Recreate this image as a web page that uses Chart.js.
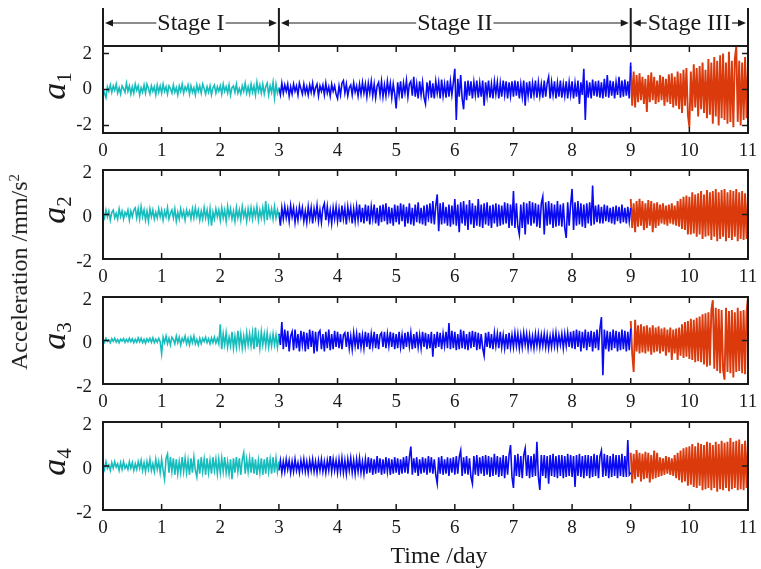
<!DOCTYPE html>
<html><head><meta charset="utf-8">
<script src="https://cdn.jsdelivr.net/npm/chart.js@4.4.1/dist/chart.umd.min.js"></script>
<style>
html,body{margin:0;padding:0;background:#fff;}
#wrap{position:relative;width:761px;height:569px;overflow:hidden;background:#fff;font-family:"Liberation Serif","Times New Roman",serif;color:#1a1a1a;}
canvas{position:absolute;left:0;}
.lab{position:absolute;white-space:nowrap;line-height:1;}
.rot{transform:translate(-50%,-50%) rotate(-90deg);}
.lab sub{font-size:0.62em;vertical-align:-0.3em;}
.lab sup{font-size:0.62em;vertical-align:0.55em;}
</style></head><body>
<div id="wrap">
<canvas id="c1"></canvas><canvas id="c2"></canvas><canvas id="c3"></canvas><canvas id="c4"></canvas>
<div class="lab rot" style="left:19px;top:272px;font-size:24px">Acceleration /mm/s<sup>2</sup></div>
<div class="lab rot" style="left:56px;top:86px;font-size:34px"><i>a</i><sub>1</sub></div>
<div class="lab rot" style="left:56px;top:210px;font-size:34px"><i>a</i><sub>2</sub></div>
<div class="lab rot" style="left:56px;top:336px;font-size:34px"><i>a</i><sub>3</sub></div>
<div class="lab rot" style="left:56px;top:462px;font-size:34px"><i>a</i><sub>4</sub></div>
<div class="lab" style="left:439px;top:555px;transform:translate(-50%,-50%);font-size:24px">Time /day</div>
</div>
<script>
// ---- data ----
const stageNames = ['Stage I','Stage II','Stage III'];
const stageBounds = [0,3,9,11];
const xTicks = [0,1,2,3,4,5,6,7,8,9,10,11];
const yTicks = [-2,0,2];
const sampleStep = 0.025; // day between samples

const a1Cyan = [.05,-.2,-.45,.15,-.1,.25,-.15,.2,-.05,.3,-.2,.1,-.25,.2,.05,-.15,.35,-.1,.2,-.25,
 .15,-.2,.3,-.05,.2,-.3,.1,-.15,.25,-.2,.3,.05,-.25,.2,-.1,.15,-.3,.25,-.15,.2,
 -.2,.3,-.1,.15,-.25,.2,.05,-.2,.25,-.15,.1,-.3,.2,-.1,.3,-.2,.15,-.05,.25,-.25,
 .2,-.15,.1,-.3,.25,-.1,.2,-.2,.3,.05,-.25,.15,-.15,.2,-.3,.1,.25,-.2,.15,-.1,
 .2,-.25,.3,-.1,.15,-.2,.25,-.3,.1,.2,-.15,.3,-.2,.05,-.25,.2,-.1,.35,-.2,.15,
 -.25,.3,-.15,.2,-.3,.4,-.1,.25,-.2,.3,-.25,.15,.35,-.3,.2,-.15,.4,-.45,.3,-.2,.1];
const a1Blue = [.1,-.3,.35,-.2,.25,-.1,.3,-.35,.15,-.25,.3,-.1,.2,-.3,.35,.05,-.25,.3,-.2,.15,
 -.3,.25,-.15,.35,-.25,.1,.3,-.35,.2,-.1,.25,-.3,.35,-.2,.15,-.35,.3,-.1,.2,-.25,
 -.5,.2,-.3,.35,.5,-.2,.3,-.35,.1,.25,-.3,.35,-.15,.2,-.35,.3,-.25,.4,-.2,.3,
 -.4,.35,-.2,.45,-.35,.3,-.45,.2,.4,-.3,.45,-.4,.25,-.35,.45,-.2,.35,-.45,.3,-.25,
 -1.05,.4,-.3,.45,-.5,.35,-.2,.5,-.4,.3,.45,-.35,.7,-.4,.3,-.5,.45,-.3,.4,-.45,
 -.8,.4,-.3,.5,-.45,.35,-.5,.45,-.2,.4,-.5,.55,-.35,.3,-.45,.5,-.4,.45,-.3,.4,
 1.15,-1.7,.6,-.4,.8,-.5,-1.1,.45,-.6,.5,-.35,.45,-.5,.4,-.3,.5,-.45,.35,-.4,.5,
 -.9,.4,-.35,.5,-.45,.3,-.5,.45,-.25,.4,-.5,.35,-.4,.5,-.3,.45,-.5,.4,-.35,.45,
 -.4,.5,-.35,.45,-.5,.3,-.4,.5,-.9,.4,-.35,.45,-.5,.35,-.3,.5,-.45,.4,-.35,.3,
 -.45,.5,-.4,.35,.7,-.5,.4,-.3,.45,-.5,.35,-.4,.5,-.45,.3,-.35,.45,-.5,.4,-.3,
 .45,-.5,.35,-.4,.5,-.8,.4,-.3,1.15,-1.7,.5,-.45,.4,-.5,.55,-.35,.45,-.4,.5,-.45,
 .4,-.5,.6,-.4,.8,-.45,.5,-.35,.45,-.5,.4,-.3,.7,-.45,.5,-.4,.55,-.35,.45,-.5,1.5];
const a1Red = [1.3,-.9,1.0,-1.0,.8,-.7,.9,-.6,.7,-.8,.6,-1.25,.8,-.7,.95,-.6,.7,-.8,.5,-.7,
 .8,-.6,.7,-.9,.6,-.7,.85,-.8,.9,-1.0,.7,-.9,1.0,-1.1,.9,-1.3,1.1,-.9,1.2,-1.4,
 -2.1,1.0,-1.2,1.4,-1.0,1.2,-1.5,1.3,-1.1,1.5,-1.3,1.1,-1.6,1.7,-1.4,1.5,-1.9,1.8,-1.5,1.6,
 -2.0,1.9,-1.6,2.0,-1.7,1.5,-1.9,2.1,-1.8,1.6,-2.1,1.7,2.4,-1.8,1.6,-2.0,1.5,-1.7,1.8,-1.6,1.4];

const a2Cyan = [.05,-.15,.2,-.1,.15,-.25,.1,.2,-.15,.05,-.2,.25,-.1,.15,-.2,.1,-.05,.2,-.25,.15,
 -.1,.2,.3,-.15,.25,-.2,.35,-.1,.2,-.25,.15,-.3,.25,-.1,.2,-.2,.1,-.15,.25,-.1,
 .2,-.25,.15,-.1,.3,-.2,.05,.2,-.15,.25,-.3,.1,-.2,.25,-.1,.15,-.25,.2,-.05,.15,
 -.2,.25,-.15,.3,-.1,.2,-.25,.15,-.2,.3,-.15,.2,-.3,.25,-.5,.1,-.2,.25,-.1,.2,
 -.25,.3,-.15,.2,-.3,.35,-.1,.25,-.2,.15,-.3,.3,-.15,.2,-.25,.35,-.1,.2,-.3,.25,
 -.15,.3,-.2,.25,-.1,.35,-.25,.2,-.15,.3,-.2,.6,-.25,.3,-.1,.25,-.2,.35,-.15,.2,-.1];
const a2Blue = [.1,-.5,.3,-.2,.35,-.15,.25,-.3,.4,-.1,.3,-.35,.2,-.25,.35,-.1,.3,-.3,.15,-.35,
 .35,-.2,.3,-.4,.25,-.15,.4,-.3,.2,-.35,.3,.5,-.25,.35,-.3,.2,-.4,.3,-.2,.35,
 -.3,.25,-.35,.4,-.2,.3,-.45,.35,-.15,.3,-.4,.25,-.3,.35,-.25,.45,-.35,.3,-.4,.45,
 -.3,.4,-.45,.35,-.2,.45,-.4,.3,-.5,.4,-.35,.45,-.3,.5,-.45,.35,-.4,.3,-.5,.45,
 -.35,.4,-.45,.5,-.3,.45,-.55,.35,-.4,.5,-.45,.3,-.5,.45,-.35,.55,-.4,.3,-.45,.4,
 -.5,.45,-.35,.5,-.4,.6,-.45,.4,.9,-.75,.5,-.45,.55,-.4,.35,-.5,.45,-.55,.4,-.45,
 .7,-.5,.45,-.8,.55,-.4,.6,-.5,.45,-.7,.65,-.45,.5,-.6,.4,-.5,.7,-.55,.45,-.6,
 .5,-.45,.55,-.5,.4,-.6,.45,-.4,.5,-.55,.45,-.5,.4,-.45,.55,-.4,.5,-.6,.45,-.5,
 1.05,-.6,.5,-.55,-.9,.45,-.6,.55,-.9,.5,-.45,.6,-.5,.55,-.4,.5,-.55,.45,-.6,.5,
 .8,-.9,.55,-.5,.6,-.45,.5,-.6,.45,-.55,.6,-.5,.45,-.55,.5,-.6,-1.05,.55,-.5,.45,
 1.15,-.7,.55,-.5,.6,-.45,.5,-.55,.45,-.6,.5,-.4,.55,-.5,1.3,-.45,.4,-.35,.45,-.4,
 .35,-.4,.45,-.3,.4,-.35,.3,-.4,.35,-.45,.4,-.3,.35,-.4,.45,-.35,.3,-.4,.35,-.3,.3];
const a2Red = [.7,-.6,.5,-.8,.6,-.55,.7,-.5,.6,-.7,.5,-.6,.65,-.5,.6,-.8,.5,-.6,.55,-.5,
 .45,-.4,.5,-.45,.4,-.5,.45,-.4,.5,-.45,.4,-.5,.6,-.55,.7,-.65,.8,-.7,.85,-.9,
 .8,-.9,1.0,-.85,.9,-1.0,.95,-.9,1.05,-1.1,.9,-1.0,1.1,-.95,1.0,-1.15,1.05,-1.0,1.15,-1.2,
 1.0,-1.1,1.1,-1.0,1.15,-1.2,1.0,-1.05,1.1,-1.15,1.05,-1.0,1.15,-1.2,1.0,-1.1,1.05,-1.15,.95,-1.1,.9];

const a3Cyan = [.05,-.08,.1,-.05,.03,-.1,.08,-.04,.1,-.07,.05,-.1,.06,-.03,.09,-.08,.05,-.06,.1,-.05,
 .08,-.1,.05,-.08,.12,-.06,.1,-.1,.05,-.12,.08,-.05,.1,-.08,.12,-.1,.06,-.08,.1,-.05,
 -.6,.15,-.1,.2,-.15,.1,-.2,.15,.05,-.15,.2,-.1,.15,-.2,.1,-.05,.2,-.15,.1,-.2,
 .15,-.1,.2,-.15,.05,-.2,.1,-.15,.1,-.05,.15,-.1,.08,-.15,.12,-.1,.15,-.12,.1,-.15,
 .75,-.4,.3,-.2,.35,-.3,.15,-.25,.4,-.35,.2,-.3,.45,-.25,.3,-.35,.2,-.3,.35,-.2,
 .3,-.25,.35,-.4,.6,-.3,.25,-.35,.4,-.2,.3,-.25,.35,-.3,.2,-.25,.3,-.2,.25,-.3,.25];
const a3Blue = [.3,-.2,.85,-.4,.5,-.3,.45,-.5,.2,.4,-.45,.5,-.35,.3,-.5,.45,-.2,.4,-.5,.35,
 -.4,.5,-.3,.45,-.6,.4,-.5,.35,.45,-.4,.3,-.5,.4,-.35,.5,-.45,.3,-.4,.45,-.3,
 .4,-.35,.3,-.4,.25,.35,-.3,.4,-.35,.2,-.4,.35,-.25,.3,-.4,.35,-.3,.25,-.35,.4,
 -.3,.35,-.4,.3,-.25,.4,-.35,.3,-.4,.25,.35,-.3,.4,-.35,.3,-.25,.4,-.3,.35,-.4,
 .3,-.35,.4,-.3,.25,-.4,.35,-.3,.4,-.25,.35,-.4,.3,-.35,.4,-.3,.25,-.35,.4,-.3,
 .35,-.4,.3,-.35,.4,-.75,.3,-.35,.4,-.3,.35,-.4,.3,-.25,.4,-.35,.8,-.4,.45,-.35,
 .4,-.45,.3,-.4,.5,-.35,.45,-.4,.3,-.45,.4,-.35,.45,-.3,.4,-.45,.35,-.4,.3,-.35,
 -.7,.35,-.3,.4,-.35,.3,-.4,.35,-.25,.3,-.35,.4,-.3,.25,-.35,.3,-.4,.35,-.3,.25,
 -.3,.35,-.25,.3,-.35,.25,-.3,.35,-.2,.3,-.35,.25,-.3,.2,-.35,.3,-.25,.3,-.3,.25,
 -.25,.3,-.3,.25,-.35,.2,-.3,.3,-.25,.35,-.3,.25,-.2,.3,-.35,.3,-.25,.35,-.3,.4,
 -.35,.45,-.4,.5,-.3,.45,-.5,.4,-.35,.5,-.45,.4,-.3,.45,-.5,.4,-.35,.5,-.45,.55,
 1.08,-1.6,.5,-.4,.45,-.5,.4,-.45,.5,-.35,.45,-.5,.4,-.45,.5,-.4,.45,-.5,.4,-.45,.55];
const a3Red = [.9,-.6,-1.45,.95,-.5,.7,-.6,.75,-.55,.65,-.6,.7,-.5,.6,-.65,.7,-.55,.6,-.5,.65,
 -.6,.55,-.5,.6,-.7,.5,-.55,.6,-.9,.5,-.6,.55,-.9,.6,-.7,.75,-.8,.85,-.75,.9,
 -.85,1.0,-.9,.95,-1.0,1.05,-.95,1.1,-1.0,1.2,-1.1,1.25,-1.2,1.3,-1.15,1.4,1.85,-1.3,1.5,-1.4,
 1.45,-1.5,1.4,-1.35,-1.8,1.5,-1.45,1.35,-1.5,1.4,-1.7,1.3,-1.45,1.5,-1.4,1.35,-1.5,1.4,-1.55,1.3,2.0];

const a4Cyan = [.1,-.15,.2,-.1,.05,-.2,.15,-.1,.2,-.05,.1,-.2,.15,-.15,.2,-.1,.05,-.15,.2,-.1,
 .15,-.2,.1,-.15,.2,-.1,.25,-.2,.15,-.25,.2,-.15,.3,-.2,.1,-.25,.3,-.15,.2,-.3,
 .3,-.2,-.6,.35,.55,-.3,.4,-.25,.35,-.4,.3,-.35,.2,-.3,.4,-.25,.35,-.3,.25,-.4,
 .35,-.3,.4,-.2,-.5,.3,-.35,.4,-.25,.3,-.4,.35,-.3,.25,-.35,.4,-.2,.3,-.35,.3,
 -.3,.35,-.25,.4,-.3,.2,-.35,.3,-.6,.35,-.3,.4,-.25,.35,-.4,.3,.6,-.35,.3,-.25,
 .35,-.3,.4,-.35,.3,-.4,.25,-.3,.35,-.4,.3,-.35,.4,-.25,.3,-.35,.4,-.3,.35,-.25,.2];
const a4Blue = [-.2,.25,-.3,.2,-.25,.3,-.15,.25,-.3,.2,-.25,.3,-.2,.15,-.3,.25,-.2,.3,-.25,.2,
 -.3,.25,-.2,.3,-.25,.2,-.3,.25,-.2,.3,-.25,.2,-.3,.25,-.2,.45,-.25,.3,-.2,.25,
 -.3,.3,-.25,.35,-.3,.25,-.35,.3,-.2,.35,-.3,.25,-.35,.3,-.25,.35,-.3,.2,-.35,.3,
 -.35,.4,-.3,.35,-.4,.3,-.35,.45,-.3,.35,-.4,.3,-.35,.4,-.25,.35,-.4,.3,-.35,.4,
 -.3,.35,-.4,.3,-.35,.4,-.3,.45,-.35,.4,.88,-.4,.35,-.3,.4,-.45,.3,-.35,.4,-.3,
 .35,-.4,.45,-.3,.4,-.35,.3,-.4,-.8,.4,-.35,.45,-.4,.3,-.35,.4,-.45,.35,-.3,.4,
 -.4,.45,-.35,.4,.7,-.45,.4,-.35,.45,-.4,.35,-.5,-.8,.45,-.4,.5,-.45,.4,-.35,.45,
 -.45,.5,-.4,.45,-.5,.4,-.45,.55,-.4,.45,-.5,.4,-.45,.5,-.55,.45,-.4,.5,.95,-.5,
 -1.0,.5,-.45,.55,-.5,.45,-.55,.5,.8,-.45,.5,-.55,.45,-.5,.55,-.45,1.1,-.5,-1.09,.5,
 -.45,.5,-.55,.45,-.8,.5,-.45,.55,-.5,.45,-.55,.5,-.45,.5,-.55,.45,-.5,.55,-.45,.5,
 -.5,.45,-.95,.5,-.45,.55,-.5,.45,-.55,.5,-.45,.5,-.55,.45,-.5,.55,-.45,.5,-.55,.45,
 .7,-.5,.55,-.45,.5,-.55,.45,-.5,.55,-.45,.5,-.55,.5,-.45,.55,-.5,.45,-.5,1.18,-.4,-.3];
const a4Red = [.6,-.78,.55,-.6,.73,-.5,.6,-.7,.55,-.6,.65,-.55,.6,-.75,.5,-.6,.7,-.55,.6,-.5,
 .4,-.45,.35,-.4,.45,-.35,.4,-.4,.35,-.45,.5,-.55,.6,-.65,.7,-.75,.8,-.7,.85,-.9,
 .9,-.85,1.0,-.95,.9,-1.0,1.05,-.9,1.0,-1.1,.95,-1.05,1.1,-1.0,1.05,-1.1,.95,-1.0,1.1,-1.17,
 1.0,-1.05,1.15,-1.1,1.05,-1.0,1.1,-1.15,1.27,-1.05,1.1,-1.0,1.15,-1.1,1.2,-1.05,1.0,-1.1,1.15,-1.0,1.2];

const colors = ['#17bdbd','#0a0af2','#da3a0c'];
const widths = [1.6,1.6,1.9];
const FONT = '"Liberation Serif","Times New Roman",serif';
const INK = '#1a1a1a';

// ---- plugins ----
const framePlugin = {
  id:'frame',
  afterDatasetsDraw(chart){
    const {ctx, chartArea:a, scales:{x,y}} = chart;
    ctx.save();
    ctx.strokeStyle = INK;
    ctx.lineWidth = 1.5;
    ctx.beginPath();
    x.ticks.forEach(t=>{const p=x.getPixelForValue(t.value);
      ctx.moveTo(p,a.top); ctx.lineTo(p,a.top+6);
      ctx.moveTo(p,a.bottom); ctx.lineTo(p,a.bottom-6);});
    y.ticks.forEach(t=>{const p=y.getPixelForValue(t.value);
      ctx.moveTo(a.left,p); ctx.lineTo(a.left+6,p);
      ctx.moveTo(a.right,p); ctx.lineTo(a.right-6,p);});
    ctx.stroke();
    ctx.lineWidth = 2;
    ctx.strokeRect(a.left,a.top,a.right-a.left,a.bottom-a.top);
    ctx.restore();
  }
};
const stagePlugin = {
  id:'stages',
  afterDraw(chart){
    const {ctx, chartArea:a, scales:{x}} = chart;
    const yArr = 23, yTop = 8;
    ctx.save();
    ctx.strokeStyle = INK; ctx.fillStyle = INK;
    ctx.lineWidth = 2;
    ctx.beginPath();
    stageBounds.forEach(v=>{const p=x.getPixelForValue(v); ctx.moveTo(p,yTop); ctx.lineTo(p,a.top);});
    ctx.stroke();
    ctx.font = '24px '+FONT;
    ctx.textAlign='center'; ctx.textBaseline='middle';
    const arrow=(x0,x1)=>{ // arrowhead at x1
      const d = x1>x0?1:-1;
      ctx.beginPath(); ctx.lineWidth=1.2; ctx.moveTo(x0,yArr); ctx.lineTo(x1-d*6,yArr); ctx.stroke();
      ctx.beginPath(); ctx.moveTo(x1,yArr); ctx.lineTo(x1-d*8,yArr-3.5); ctx.lineTo(x1-d*8,yArr+3.5); ctx.closePath(); ctx.fill();
    };
    for(let i=0;i<stageNames.length;i++){
      const l = x.getPixelForValue(stageBounds[i])+2, r = x.getPixelForValue(stageBounds[i+1])-2;
      const c = (l+r)/2, w = ctx.measureText(stageNames[i]).width;
      ctx.fillText(stageNames[i], c, yArr+1);
      arrow(c-w/2-1, l);
      arrow(c+w/2+1, r);
    }
    ctx.restore();
  }
};

function series(arr, x0){ return arr.map((v,i)=>({x:x0+i*sampleStep, y:v})); }

function makeChart(id, canvasTop, areaTop, areaBottom, ymin, ymax, segs, withStages, labelOffset){
  const cv = document.getElementById(id);
  const xAxisH = 34;
  const h = areaBottom - canvasTop + xAxisH;
  cv.width = 761; cv.height = h; cv.style.top = canvasTop+'px';
  cv.style.width='761px'; cv.style.height=h+'px';
  const datasets = segs.map((arr,i)=>({
    data: series(arr, stageBounds[i]),
    borderColor: colors[i], borderWidth: widths[i], pointRadius:0, tension:0, fill:false
  }));
  return new Chart(cv, {
    type:'line',
    data:{datasets},
    plugins: withStages ? [framePlugin, stagePlugin] : [framePlugin],
    options:{
      responsive:false, animation:false, devicePixelRatio:1,
      layout:{padding:{left:0,right:13,top:areaTop-canvasTop,bottom:0}},
      plugins:{legend:{display:false}, tooltip:{enabled:false}},
      scales:{
        x:{type:'linear', min:0, max:11,
           afterBuildTicks:s=>{s.ticks = xTicks.map(v=>({value:v}));},
           ticks:{color:INK, font:{family:FONT,size:19}, padding:7, maxRotation:0, autoSkip:false},
           grid:{display:false, drawTicks:false}, border:{display:false},
           afterFit:s=>{s.height = xAxisH; s.paddingLeft=0; s.paddingRight=0;}},
        y:{type:'linear', min:ymin, max:ymax,
           afterBuildTicks:s=>{s.ticks = yTicks.map(v=>({value:v}));},
           ticks:{color:INK, font:{family:FONT,size:19}, padding:11, labelOffset:labelOffset},
           grid:{display:false, drawTicks:false}, border:{display:false},
           afterFit:s=>{s.width = 103; s.paddingTop=0; s.paddingBottom=0;}}
      }
    }
  });
}

makeChart('c1', 0, 46, 133, -2.42, 2.42, [a1Cyan,a1Blue,a1Red], true, 0);
makeChart('c2', 158, 170, 259, -2, 2, [a2Cyan,a2Blue,a2Red], false, 3);
makeChart('c3', 285, 297, 384, -2, 2, [a3Cyan,a3Blue,a3Red], false, 3);
makeChart('c4', 410, 422, 510, -2, 2, [a4Cyan,a4Blue,a4Red], false, 3);
</script>
</body></html>
